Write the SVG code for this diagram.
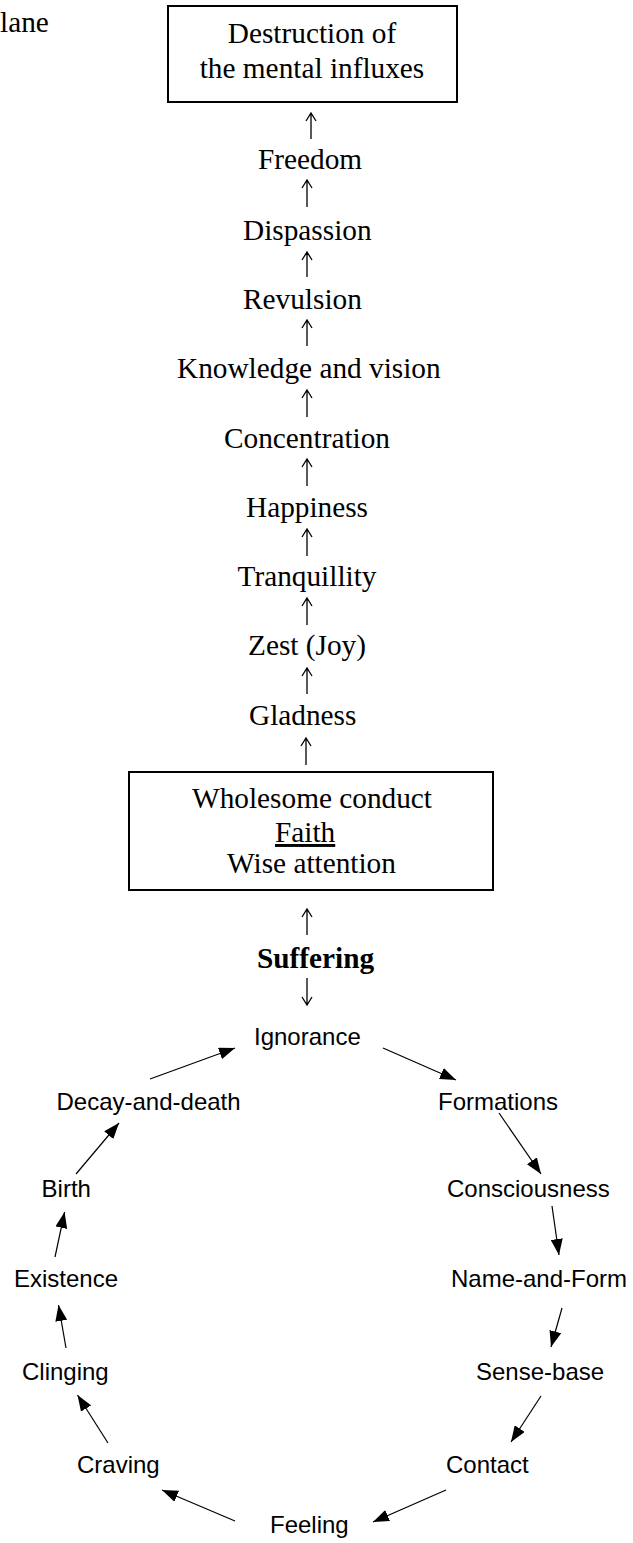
<svg xmlns="http://www.w3.org/2000/svg" width="633" height="1543" viewBox="0 0 633 1543">
<style>
.serif{font-family:"Liberation Serif","Times New Roman",serif;font-size:29.3px;fill:#000}
.bold{font-weight:bold}
.sans{font-family:"Liberation Sans",Arial,sans-serif;font-size:24px;fill:#000}
.box{fill:#fff;stroke:#000;stroke-width:2}
.up{fill:none;stroke:#000;stroke-width:1.3}
.conn{fill:none;stroke:#000;stroke-width:1.2}
</style>
<defs>
<marker id="ah" markerUnits="userSpaceOnUse" markerWidth="16" markerHeight="12" refX="16" refY="6" orient="auto">
<path d="M0,0 L16,6 L0,12 z" fill="#000"/>
</marker>
</defs>
<rect width="633" height="1543" fill="#fff"/>
<text class="serif" x="0" y="32">lane</text>

<g id="n-destruction">
<rect class="box" x="168" y="6" width="289" height="96"/>
<text class="serif" x="312" y="43" text-anchor="middle">Destruction of</text>
<text class="serif" x="312" y="78" text-anchor="middle">the mental influxes</text>
</g>
<g id="n-freedom"><text class="serif" x="310" y="169" text-anchor="middle">Freedom</text></g>
<g id="n-dispassion"><text class="serif" x="243" y="240">Dispassion</text></g>
<g id="n-revulsion"><text class="serif" x="243" y="309">Revulsion</text></g>
<g id="n-knowledge"><text class="serif" x="177" y="378">Knowledge and vision</text></g>
<g id="n-concentration"><text class="serif" x="307" y="448" text-anchor="middle">Concentration</text></g>
<g id="n-happiness"><text class="serif" x="307" y="517" text-anchor="middle">Happiness</text></g>
<g id="n-tranquillity"><text class="serif" x="307" y="586" text-anchor="middle">Tranquillity</text></g>
<g id="n-zest"><text class="serif" x="307" y="655" text-anchor="middle">Zest (Joy)</text></g>
<g id="n-gladness"><text class="serif" x="249" y="725">Gladness</text></g>
<g id="n-conduct">
<rect class="box" x="129" y="772" width="364" height="118"/>
<text class="serif" x="312" y="808" text-anchor="middle">Wholesome conduct</text>
<text class="serif" x="275" y="842" text-decoration="underline">Faith</text>
<text class="serif" x="311.5" y="873" text-anchor="middle">Wise attention</text>
</g>
<g id="n-suffering"><text class="serif bold" x="257" y="968">Suffering</text></g>

<g id="n-ignorance"><text class="sans" x="254" y="1045">Ignorance</text></g>
<g id="n-formations"><text class="sans" x="438" y="1110">Formations</text></g>
<g id="n-consciousness"><text class="sans" x="447" y="1197">Consciousness</text></g>
<g id="n-nameform"><text class="sans" x="451" y="1287">Name-and-Form</text></g>
<g id="n-sensebase"><text class="sans" x="476" y="1380">Sense-base</text></g>
<g id="n-contact"><text class="sans" x="446" y="1473">Contact</text></g>
<g id="n-feeling"><text class="sans" x="270" y="1533">Feeling</text></g>
<g id="n-craving"><text class="sans" x="77" y="1473">Craving</text></g>
<g id="n-clinging"><text class="sans" x="22" y="1380">Clinging</text></g>
<g id="n-existence"><text class="sans" x="14" y="1287">Existence</text></g>
<g id="n-birth"><text class="sans" x="41.6" y="1197">Birth</text></g>
<g id="n-decay"><text class="sans" x="56.5" y="1110">Decay-and-death</text></g>

<g id="connectors">
<path class="up" d="M311,139 V113 M306,121 L311,113 L316,121"/>
<path class="up" d="M307,207 V180 M302,188 L307,180 L312,188"/>
<path class="up" d="M307,277 V252 M302,260 L307,252 L312,260"/>
<path class="up" d="M307,346 V320 M302,328 L307,320 L312,328"/>
<path class="up" d="M307,417 V390 M302,398 L307,390 L312,398"/>
<path class="up" d="M307,486 V459 M302,467 L307,459 L312,467"/>
<path class="up" d="M307,556 V529 M302,537 L307,529 L312,537"/>
<path class="up" d="M307,625 V598 M302,606 L307,598 L312,606"/>
<path class="up" d="M307,694 V668 M302,676 L307,668 L312,676"/>
<path class="up" d="M306,765 V738 M301,746 L306,738 L311,746"/>
<path class="up" d="M307,935 V909 M302,917 L307,909 L312,917"/>
<path class="up" d="M307,978 V1005 M302,997 L307,1005 L312,997"/>
<line class="conn" marker-end="url(#ah)" x1="383" y1="1048" x2="456" y2="1080"/>
<line class="conn" marker-end="url(#ah)" x1="499" y1="1113" x2="541" y2="1174"/>
<line class="conn" marker-end="url(#ah)" x1="552" y1="1206" x2="559" y2="1255"/>
<line class="conn" marker-end="url(#ah)" x1="562" y1="1308" x2="551" y2="1347"/>
<line class="conn" marker-end="url(#ah)" x1="541" y1="1396" x2="511" y2="1442"/>
<line class="conn" marker-end="url(#ah)" x1="446" y1="1490" x2="373" y2="1522"/>
<line class="conn" marker-end="url(#ah)" x1="235" y1="1521" x2="162" y2="1490"/>
<line class="conn" marker-end="url(#ah)" x1="108" y1="1443" x2="77.5" y2="1395"/>
<line class="conn" marker-end="url(#ah)" x1="66" y1="1348" x2="58.5" y2="1305"/>
<line class="conn" marker-end="url(#ah)" x1="55" y1="1257" x2="64.6" y2="1212"/>
<line class="conn" marker-end="url(#ah)" x1="76" y1="1174" x2="119" y2="1123"/>
<line class="conn" marker-end="url(#ah)" x1="150" y1="1079" x2="235" y2="1048"/>
</g>
</svg>
